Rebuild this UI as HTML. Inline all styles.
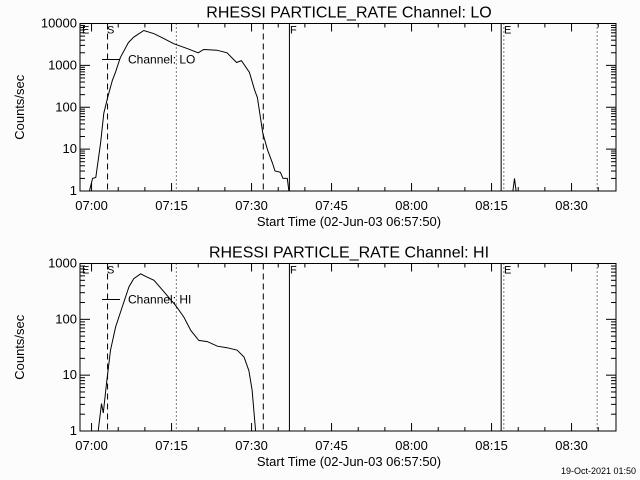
<!DOCTYPE html>
<html><head><meta charset="utf-8"><style>
html,body{margin:0;padding:0;background:#fcfcfc;}
svg{display:block;font-family:"Liberation Sans",sans-serif;}
</style></head><body>
<svg id="c" width="640" height="480" viewBox="0 0 640 480" xmlns="http://www.w3.org/2000/svg">
<rect x="0" y="0" width="640" height="480" fill="#fcfcfc"/>
</svg>
<script>
// Data: time in minutes from 07:00, values in counts/sec
const loTimes=[-0.4,0.2,0.8,1.7,2.3,3.0,3.9,4.5,5.4,6.9,7.9,9.8,11.7,13.5,15.4,18,20,21,23.5,25.4,27.2,28.1,29.6,30.6,31.1,32.1,33,33.9,34.4,35.4,35.9,36.7,37];
const loValues=[1,2,2.1,14,72,170,440,700,1550,3500,4700,6800,5700,4400,3300,2500,2000,2400,2300,2000,1170,1300,680,250,170,24,9.5,4.7,3,2.8,2,2,1];
const loSpikeTimes=[79.0,79.3,79.6];
const loSpikeValues=[1,2,1];
const hiTimes=[1.25,1.87,2.2,2.8,3.56,4.5,5.75,7,7.9,9.2,10.4,11.7,13.6,15.75,17.3,18.6,20.1,21.7,23.6,25.4,27.3,28.6,29.5,30.1,30.75];
const hiValues=[1,3.1,2.1,7.1,28,73,166,380,535,655,570,500,310,178,110,63,42,40,33,31,28,21,12,5.4,1];
const xTickLabels=["07:00","07:15","07:30","07:45","08:00","08:15","08:30"];
const xTickMinutes=[0,15,30,45,60,75,90];
const loYTicks=["1","10","100","1000","10000"];
const hiYTicks=["1","10","100","1000"];
const markerTimes=[3.0,15.9,32.2,37.1,76.8,77.3,94.8];
const markerStyles=["dash","dot","dash","solid","solid","dot","dot"];

const NS="http://www.w3.org/2000/svg";
const svg=document.getElementById('c');
function mk(tag,attrs,parent){const e=document.createElementNS(NS,tag);for(const k in attrs)e.setAttribute(k,attrs[k]);(parent||svg).appendChild(e);return e;}
const L=80,R=616,pxPerMin=5.3333,tStart=-2.1667;
function xs(t){return L+(t-tStart)*pxPerMin;}

function panel(top,bot,decades,yLabels,title,chan,series,name){
  const g=mk('g',{});
  
  
  const dec=(bot-top)/decades;
  const ys=v=>bot-Math.log10(v)*dec;
  const t=mk('text',{x:349,y:top-6,'text-anchor':'middle','font-size':16,fill:'#000'},g);
  t.textContent=title;
  
  
  for(let m=-0;m<=100;m+=5){
    const x=xs(m); if(x>R)break;
    const len=(m%15===0)?8:4;
    mk('line',{x1:x,y1:bot,x2:x,y2:bot-len,stroke:'#000','stroke-width':1},g);
    mk('line',{x1:x,y1:top,x2:x,y2:top+len,stroke:'#000','stroke-width':1},g);
  }
  xTickLabels.forEach((lab,i)=>{
    const tx=mk('text',{x:xs(xTickMinutes[i]),y:bot+19,'text-anchor':'middle','font-size':13,fill:'#000'},g);
    tx.textContent=lab;
    
    
  });
  const xl=mk('text',{x:349,y:bot+35,'text-anchor':'middle','font-size':13,fill:'#000'},g);
  xl.textContent="Start Time (02-Jun-03 06:57:50)";
  
  
  for(let d=0;d<decades;d++){
    for(let k=1;k<=9;k++){
      const y=ys(Math.pow(10,d)*k);
      const len=k===1?10:5;
      mk('line',{x1:L,y1:y,x2:L+len,y2:y,stroke:'#000','stroke-width':1},g);
      mk('line',{x1:R,y1:y,x2:R-len,y2:y,stroke:'#000','stroke-width':1},g);
    }
  }
  yLabels.forEach((lab,i)=>{
    const ty=mk('text',{x:L-3,y:ys(Math.pow(10,i))+4,'text-anchor':'end','font-size':13,fill:'#000'},g);
    ty.textContent=lab;
    
    
  });
  const cy=(top+bot)/2;
  const yt=mk('text',{x:24,y:cy,'text-anchor':'middle','font-size':13,fill:'#000',transform:`rotate(-90 24 ${cy})`},g);
  yt.textContent="Counts/sec";
  
  
  markerTimes.forEach((mt,i)=>{
    const st=markerStyles[i];
    const da=st==='dash'?'6,4':st==='dot'?'1,3':'none';
    const ln=mk('line',{x1:xs(mt),y1:top,x2:xs(mt),y2:bot,stroke:'#000','stroke-width':1,'stroke-dasharray':da},g);
    
    
  });
  [["E",82],["S",107],["F",290],["E",504]].forEach(p=>{
    const tl=mk('text',{x:p[1],y:top+10,'font-size':11,fill:'#000'},g);
    tl.textContent=p[0];
    
    
  });
  series.forEach(s=>{
    const pts=s[0].map((tm,i)=>xs(tm).toFixed(1)+','+ys(s[1][i]).toFixed(1)).join(' ');
    const pl=mk('polyline',{points:pts,fill:'none',stroke:'#000','stroke-width':1},g);
    
    
  });
  const ly=top+36;
  const lg=mk('line',{x1:102,y1:ly,x2:120,y2:ly,stroke:'#000','stroke-width':1},g);
  
  
  const lt=mk('text',{x:128,y:ly+4,'font-size':12,fill:'#000'},g);
  lt.textContent="Channel: "+chan;
  
  
  const fr=mk('rect',{x:L,y:top,width:R-L,height:bot-top,fill:'none',stroke:'#000','stroke-width':1},g);
  
  
}
panel(23.5,191,4,loYTicks,"RHESSI PARTICLE_RATE Channel: LO","LO",[[loTimes,loValues],[loSpikeTimes,loSpikeValues]],'lo');
panel(263.5,431,3,hiYTicks,"RHESSI PARTICLE_RATE Channel: HI","HI",[[hiTimes,hiValues]],'hi');
const ts=mk('text',{x:636,y:474,'text-anchor':'end','font-size':9,fill:'#000'});
ts.textContent="19-Oct-2021 01:50";


</script>
</body></html>
